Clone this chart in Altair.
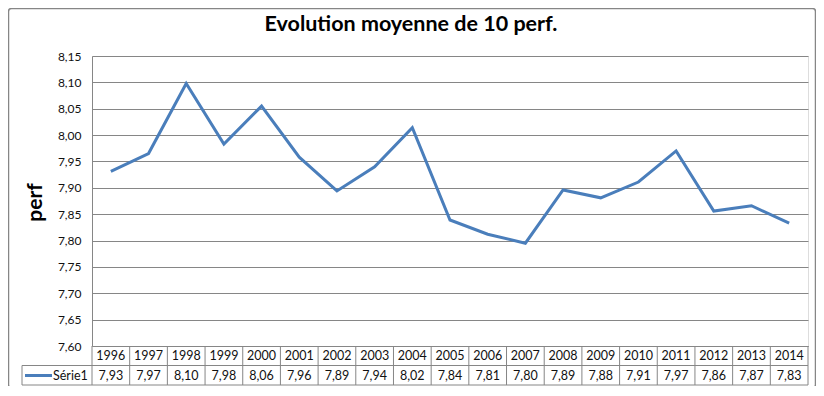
import altair as alt
import pandas as pd

# ---- data ----
years = ["1996", "1997", "1998", "1999", "2000", "2001", "2002", "2003", "2004", "2005",
         "2006", "2007", "2008", "2009", "2010", "2011", "2012", "2013", "2014"]
values = [7.931, 7.965, 8.098, 7.983, 8.055, 7.958, 7.894, 7.940, 8.014, 7.839,
          7.812, 7.795, 7.896, 7.881, 7.911, 7.970, 7.856, 7.866, 7.833]
table_labels = ["7,93", "7,97", "8,10", "7,98", "8,06", "7,96", "7,89", "7,94", "8,02", "7,84",
                "7,81", "7,80", "7,89", "7,88", "7,91", "7,97", "7,86", "7,87", "7,83"]
y_ticks = [7.60, 7.65, 7.70, 7.75, 7.80, 7.85, 7.90, 7.95, 8.00, 8.05, 8.10, 8.15]
series_name = "Série1"
title_text = "Evolution moyenne de 10 perf."
y_title = "perf"

df = pd.DataFrame({"year": years, "value": values, "label": table_labels})
one = pd.DataFrame({"a": [0]})

W, H = 716, 290
BLUE = "#4A7EBB"
GRID = "#868686"
FONT = "Lato"

xscale = alt.Scale(type="band", paddingInner=0, paddingOuter=0)
xaxis = alt.Axis(labels=False, ticks=False, grid=False, domain=True, title=None,
                 domainColor=GRID, domainWidth=1)
yaxis = alt.Axis(values=y_ticks, labelExpr="replace(format(datum.value, '.2f'), '.', ',')",
                 ticks=False, grid=True, gridColor=GRID, gridWidth=1,
                 domainColor=GRID, domainWidth=1, labelPadding=11,
                 labelFont=FONT, labelFontSize=12, labelColor="#111111",
                 title=y_title, titleFont=FONT, titleFontSize=21, titleFontWeight="bold",
                 titleColor="#000000", titleAngle=270, titleX=-57, titleY=146,
                 titleAlign="center", titleBaseline="middle")

base = alt.Chart(df)

line = base.mark_line(color=BLUE, strokeWidth=3).encode(
    x=alt.X("year:O", bandPosition=0.5, scale=xscale, axis=xaxis),
    y=alt.Y("value:Q", scale=alt.Scale(domain=[7.60, 8.15], nice=False, zero=False), axis=yaxis),
)

row1_y = 299.5
row2_y = 319.5
year_text = base.mark_text(font=FONT, fontSize=12.5, baseline="middle", color="#111111").encode(
    x=alt.X("year:O", bandPosition=0.5), y=alt.value(row1_y), text="year:N")
val_text = base.mark_text(font=FONT, fontSize=12.5, baseline="middle", color="#111111").encode(
    x=alt.X("year:O", bandPosition=0.5), y=alt.value(row2_y), text="label:N")

col_lines = base.mark_rule(color=GRID, strokeWidth=1).encode(
    x=alt.X("year:O", bandPosition=0), y=alt.value(H), y2=alt.value(329))

c1 = alt.Chart(one)
right_edge = c1.mark_rule(color=GRID, strokeWidth=1).encode(
    x=alt.value(W), y=alt.value(H), y2=alt.value(329))
row_sep = c1.mark_rule(color=GRID, strokeWidth=1).encode(
    x=alt.value(-70), x2=alt.value(W), y=alt.value(309.5))
row_bot = c1.mark_rule(color=GRID, strokeWidth=1).encode(
    x=alt.value(-70), x2=alt.value(W), y=alt.value(329))
leg_left = c1.mark_rule(color=GRID, strokeWidth=1).encode(
    x=alt.value(-70), y=alt.value(309.5), y2=alt.value(329))
leg_line = c1.mark_rule(color=BLUE, strokeWidth=3).encode(
    x=alt.value(-67), x2=alt.value(-40), y=alt.value(row2_y))
leg_text = alt.Chart(pd.DataFrame({"s": [series_name]})).mark_text(
    font=FONT, fontSize=12.5, align="left", baseline="middle", color="#111111").encode(
    x=alt.value(-39), y=alt.value(row2_y), text="s:N")
border = c1.mark_rect(fill=None, stroke=GRID, strokeWidth=1.5, cornerRadius=3).encode(
    x=alt.value(-83.5), x2=alt.value(723.5), y=alt.value(-47.5), y2=alt.value(331.5))
title = alt.Chart(pd.DataFrame({"t": [title_text]})).mark_text(
    font=FONT, fontSize=21.5, fontWeight="bold", align="center", baseline="alphabetic",
    color="#000000").encode(x=alt.value(319), y=alt.value(-25), text="t:N")

chart = alt.layer(
    border, line, col_lines, right_edge, row_sep, row_bot, leg_left,
    leg_line, leg_text, year_text, val_text, title,
).properties(
    width=W, height=H,
    autosize=alt.AutoSizeParams(type="none"),
    padding={"left": 84, "top": 48, "right": 8, "bottom": 40},
).configure_view(stroke=None).configure(background="white")

chart.save("out.html", embed_options={"renderer": "svg", "actions": False})
